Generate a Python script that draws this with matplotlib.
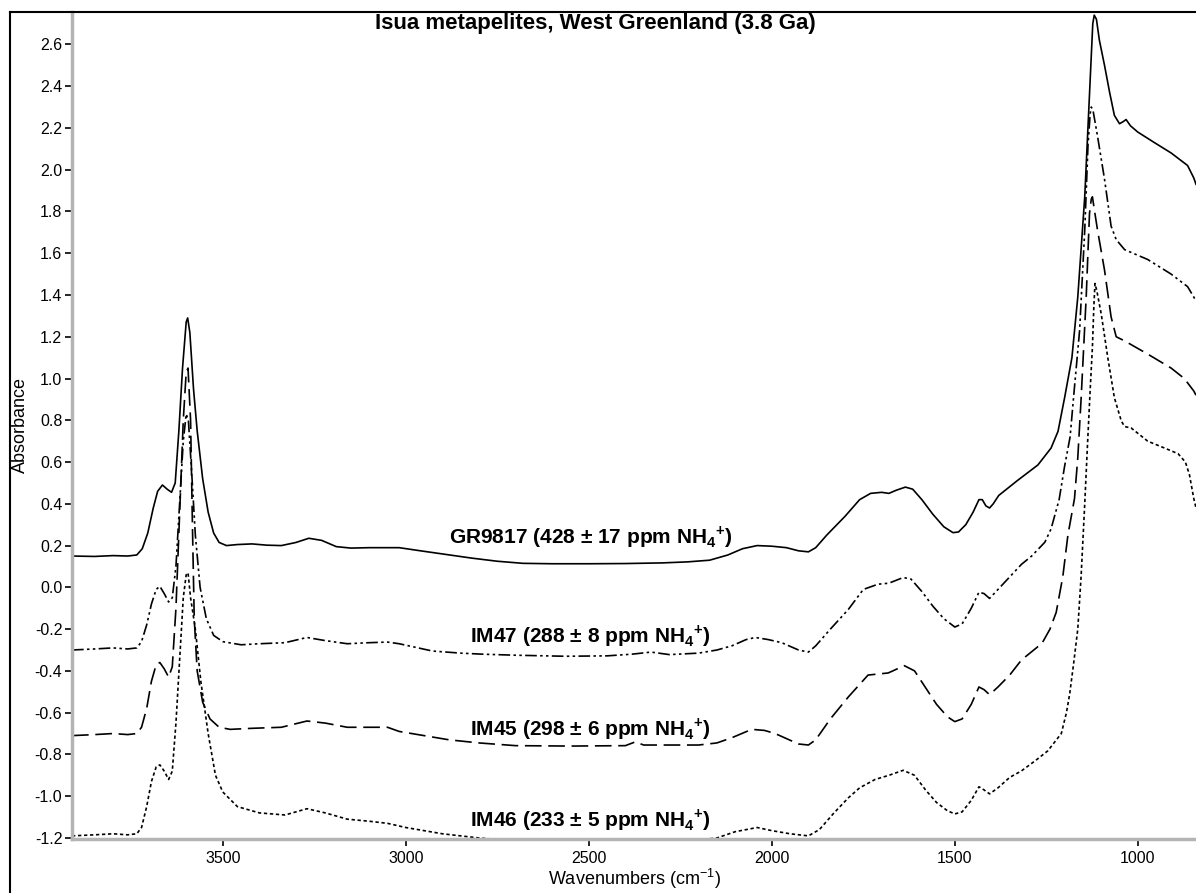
import matplotlib
matplotlib.use("Agg")
import matplotlib.pyplot as plt
from matplotlib.ticker import MultipleLocator, FormatStrFormatter
from matplotlib.lines import Line2D

plt.rcParams['font.family'] = ['Liberation Sans', 'DejaVu Sans']
plt.rcParams['mathtext.fontset'] = 'custom'
plt.rcParams['mathtext.rm'] = 'Liberation Sans'
plt.rcParams['mathtext.bf'] = 'Liberation Sans:bold'

# spectra: wavenumber (cm-1), absorbance
gr9817_wn = [3912, 3850, 3800, 3760, 3735, 3720, 3705, 3690, 3678, 3665, 3652, 3640, 3630, 3620,
             3610, 3600, 3596, 3590, 3580, 3570, 3555, 3540, 3525, 3510, 3490, 3460, 3420, 3380,
             3340, 3300, 3265, 3230, 3190, 3150, 3100, 3050, 3018, 2960, 2900, 2820, 2750, 2680,
             2600, 2500, 2400, 2300, 2230, 2170, 2120, 2080, 2040, 2000, 1960, 1927, 1900, 1880,
             1850, 1800, 1760, 1730, 1700, 1680, 1660, 1635, 1615, 1590, 1560, 1530, 1505, 1490,
             1470, 1450, 1434, 1425, 1415, 1405, 1395, 1380, 1330, 1273, 1237, 1218, 1200, 1180,
             1164, 1145, 1132, 1123, 1119, 1113, 1105, 1091, 1077, 1064, 1050, 1040, 1032, 1020,
             1000, 955, 909, 864, 847, 841]
gr9817_abs = [0.150, 0.148, 0.152, 0.150, 0.155, 0.185, 0.26, 0.38, 0.46, 0.49, 0.47, 0.455, 0.50, 0.75,
              1.05, 1.27, 1.29, 1.22, 0.95, 0.75, 0.52, 0.36, 0.26, 0.215, 0.20, 0.205, 0.208, 0.202,
              0.20, 0.215, 0.235, 0.225, 0.195, 0.188, 0.19, 0.19, 0.19, 0.175, 0.16, 0.14, 0.125, 0.115,
              0.113, 0.113, 0.114, 0.117, 0.122, 0.13, 0.155, 0.185, 0.20, 0.197, 0.19, 0.175, 0.17, 0.19,
              0.25, 0.34, 0.42, 0.45, 0.455, 0.45, 0.465, 0.48, 0.47, 0.42, 0.35, 0.29, 0.262, 0.265,
              0.30, 0.36, 0.42, 0.42, 0.39, 0.38, 0.40, 0.44, 0.51, 0.586, 0.667, 0.747, 0.908, 1.10,
              1.39, 1.87, 2.36, 2.70, 2.74, 2.72, 2.62, 2.50, 2.37, 2.26, 2.22, 2.23, 2.24, 2.21,
              2.18, 2.13, 2.08, 2.02, 1.96, 1.93]

im47_wn = [3912, 3850, 3800, 3760, 3735, 3722, 3708, 3695, 3682, 3672, 3660, 3648, 3638, 3628,
           3618, 3608, 3600, 3594, 3585, 3575, 3562, 3545, 3525, 3500, 3450, 3400, 3330, 3270,
           3220, 3160, 3100, 3050, 3018, 2927, 2850, 2791, 2700, 2564, 2450, 2382, 2330, 2280,
           2200, 2150, 2109, 2070, 2045, 2010, 1973, 1927, 1900, 1880, 1840, 1791, 1750, 1710,
           1680, 1641, 1620, 1590, 1560, 1530, 1500, 1480, 1455, 1434, 1420, 1405, 1382, 1350,
           1318, 1290, 1254, 1237, 1215, 1200, 1185, 1175, 1159, 1145, 1136, 1130, 1127, 1122,
           1110, 1091, 1073, 1059, 1036, 973, 909, 864, 847, 841]
im47_abs = [-0.30, -0.295, -0.29, -0.295, -0.29, -0.26, -0.18, -0.08, -0.01, 0.005, -0.03, -0.07, -0.05, 0.10,
            0.40, 0.70, 0.83, 0.80, 0.55, 0.25, 0.0, -0.15, -0.23, -0.26, -0.275, -0.27, -0.265, -0.24,
            -0.255, -0.27, -0.265, -0.262, -0.27, -0.305, -0.315, -0.32, -0.325, -0.33, -0.328, -0.32, -0.31, -0.322,
            -0.315, -0.30, -0.28, -0.25, -0.24, -0.25, -0.265, -0.30, -0.31, -0.28, -0.20, -0.106, -0.01, 0.015,
            0.02, 0.047, 0.04, -0.02, -0.09, -0.15, -0.19, -0.175, -0.10, -0.023, -0.03, -0.053, -0.01, 0.05,
            0.11, 0.15, 0.216, 0.28, 0.42, 0.58, 0.72, 0.92, 1.23, 1.71, 2.12, 2.27, 2.30, 2.28,
            2.16, 1.955, 1.73, 1.665, 1.617, 1.57, 1.50, 1.44, 1.39, 1.37]

im45_wn = [3912, 3850, 3800, 3760, 3735, 3722, 3708, 3695, 3682, 3672, 3660, 3648, 3638, 3628,
           3618, 3608, 3600, 3595, 3588, 3583, 3578, 3570, 3555, 3535, 3510, 3480, 3420, 3340,
           3270, 3220, 3160, 3100, 3050, 3018, 2882, 2800, 2700, 2550, 2400, 2373, 2350, 2200,
           2150, 2109, 2055, 2020, 1991, 1927, 1900, 1880, 1840, 1791, 1737, 1682, 1638, 1610,
           1580, 1550, 1520, 1500, 1480, 1455, 1434, 1420, 1405, 1382, 1350, 1318, 1273, 1264,
           1240, 1223, 1205, 1191, 1173, 1164, 1155, 1141, 1132, 1127, 1124, 1118, 1110, 1091,
           1073, 1059, 1036, 973, 909, 873, 847, 841]
im45_abs = [-0.71, -0.705, -0.70, -0.705, -0.70, -0.67, -0.58, -0.45, -0.37, -0.36, -0.39, -0.43, -0.38, -0.10,
            0.35, 0.80, 1.03, 1.05, 0.80, 0.30, -0.15, -0.40, -0.55, -0.63, -0.67, -0.68, -0.675, -0.67,
            -0.64, -0.65, -0.67, -0.67, -0.67, -0.69, -0.73, -0.745, -0.758, -0.76, -0.758, -0.74, -0.755, -0.755,
            -0.745, -0.72, -0.68, -0.685, -0.70, -0.75, -0.755, -0.73, -0.63, -0.525, -0.42, -0.41, -0.375, -0.40,
            -0.48, -0.56, -0.62, -0.643, -0.63, -0.56, -0.477, -0.49, -0.514, -0.477, -0.42, -0.348, -0.284, -0.275,
            -0.20, -0.12, 0.05, 0.25, 0.425, 0.62, 0.90, 1.39, 1.79, 1.86, 1.87, 1.80, 1.71, 1.52,
            1.295, 1.20, 1.18, 1.117, 1.05, 1.0, 0.94, 0.92]

im46_wn = [3912, 3850, 3800, 3760, 3735, 3722, 3708, 3695, 3682, 3672, 3660, 3648, 3638, 3628,
           3618, 3608, 3600, 3595, 3588, 3575, 3560, 3540, 3520, 3500, 3460, 3400, 3330, 3270,
           3220, 3160, 3100, 3050, 3000, 2900, 2800, 2700, 2500, 2300, 2200, 2150, 2100, 2040,
           2000, 1950, 1900, 1870, 1830, 1791, 1760, 1718, 1680, 1641, 1610, 1580, 1550, 1520,
           1500, 1480, 1455, 1434, 1420, 1405, 1382, 1350, 1318, 1280, 1246, 1209, 1195, 1186,
           1175, 1164, 1155, 1145, 1137, 1130, 1124, 1120, 1117, 1112, 1100, 1082, 1064, 1045,
           1036, 1018, 973, 927, 890, 870, 859, 847, 841]
im46_abs = [-1.19, -1.185, -1.18, -1.185, -1.18, -1.15, -1.05, -0.93, -0.86, -0.85, -0.88, -0.92, -0.88, -0.65,
            -0.35, -0.05, 0.06, 0.07, -0.05, -0.20, -0.45, -0.70, -0.90, -0.98, -1.05, -1.08, -1.09, -1.06,
            -1.08, -1.11, -1.12, -1.13, -1.15, -1.18, -1.20, -1.215, -1.22, -1.22, -1.21, -1.20, -1.17, -1.15,
            -1.165, -1.18, -1.19, -1.16, -1.08, -1.008, -0.96, -0.92, -0.90, -0.876, -0.90, -0.97, -1.03, -1.07,
            -1.085, -1.075, -1.02, -0.955, -0.97, -0.989, -0.96, -0.91, -0.879, -0.83, -0.783, -0.70, -0.60, -0.509,
            -0.36, -0.20, 0.05, 0.40, 0.70, 0.95, 1.15, 1.35, 1.455, 1.42, 1.31, 1.10, 0.908, 0.796,
            0.77, 0.763, 0.70, 0.667, 0.64, 0.60, 0.54, 0.425, 0.38]

sample_labels = [r'GR9817 (428 ± 17 ppm NH$_\mathbf{4}$$^\mathbf{+}$)',
                 r'IM47 (288 ± 8 ppm NH$_\mathbf{4}$$^\mathbf{+}$)',
                 r'IM45 (298 ± 6 ppm NH$_\mathbf{4}$$^\mathbf{+}$)',
                 r'IM46 (233 ± 5 ppm NH$_\mathbf{4}$$^\mathbf{+}$)']
label_y = [0.24, -0.235, -0.68, -1.115]

fig = plt.figure(figsize=(11.96, 8.93), dpi=100)
ax = fig.add_axes([72 / 1196, 54 / 893, 1 - 72 / 1196, (839 - 12) / 893])

ax.plot(gr9817_wn, gr9817_abs, color='black', lw=1.2, ls='-')
ax.plot(im47_wn, im47_abs, color='black', lw=1.2, ls=(0, (7, 2, 1.5, 2, 1.5, 2)))
ax.plot(im45_wn, im45_abs, color='black', lw=1.2, ls=(0, (10, 4)))
ax.plot(im46_wn, im46_abs, color='black', lw=1.2, ls=(0, (2, 1.6)))

for txt, yy in zip(sample_labels, label_y):
    ax.text(2495, yy, txt, ha='center', va='center', fontsize=15, fontweight='bold')

ax.set_xlim(3912, 841)
ax.set_ylim(-1.205, 2.755)

ax.xaxis.set_major_locator(MultipleLocator(500))
ax.xaxis.set_minor_locator(MultipleLocator(100))
ax.yaxis.set_major_locator(MultipleLocator(0.2))
ax.yaxis.set_minor_locator(MultipleLocator(0.02))
ax.yaxis.set_major_formatter(FormatStrFormatter('%.1f'))

for side in ['top', 'right']:
    ax.spines[side].set_visible(False)
for side in ['left', 'bottom']:
    ax.spines[side].set_color('#b4b4b4')
    ax.spines[side].set_linewidth(2.5)

ax.tick_params(which='major', direction='out', length=5, width=1.2, color='black', labelsize=11.5)
ax.tick_params(which='minor', direction='inout', length=2, width=1.6, color='black')
ax.tick_params(axis='y', which='major', pad=2)

ax.set_xlabel('Wavenumbers (cm$^{-1}$)', fontsize=13, labelpad=1)
ax.set_ylabel('Absorbance', fontsize=13, labelpad=4)

fig.text(595 / 1196, 1 - 24 / 893, 'Isua metapelites, West Greenland (3.8 Ga)', ha='center', va='center',
         fontsize=16, fontweight='bold')

# outer frame (cropped at right and bottom in the original)
fig.add_artist(Line2D([10 / 1196, 10 / 1196], [0, 1 - 12 / 893], transform=fig.transFigure, color='black', lw=1.5))
fig.add_artist(Line2D([10 / 1196, 1], [1 - 12 / 893, 1 - 12 / 893], transform=fig.transFigure, color='black', lw=1.5))

fig.savefig('out.png', dpi=100)
